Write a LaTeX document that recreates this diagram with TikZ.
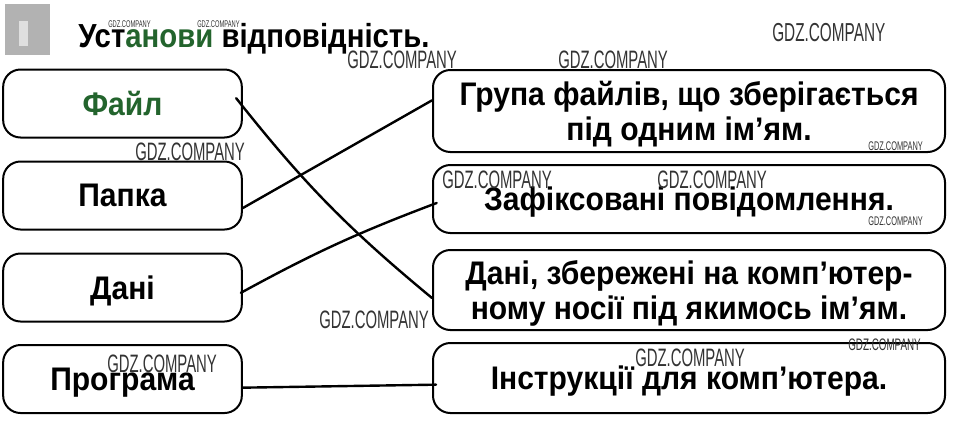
\documentclass[tikz,border=0pt]{standalone}
\usepackage{fontspec}
\setmainfont{Liberation Sans}
\newfontfamily\boxfont[FakeStretch=0.92]{Liberation Sans}
\newfontfamily\titlefont[FakeStretch=0.88]{Liberation Sans}
\usetikzlibrary{positioning}
\definecolor{filegreen}{RGB}{35,100,45}
\tikzset{
  wordbox/.style={draw, line width=1.5pt, rounded corners=13pt, fill=white, inner sep=0pt,
    align=center, text depth=0pt, font=\boxfont\bfseries\fontsize{24.5}{26}\selectfont},
  leftbox/.style={wordbox, minimum width=179pt, minimum height=51pt},
  rightbox/.style={wordbox, minimum width=384pt, minimum height=#1},
  link/.style={line width=1.8pt, line cap=round},
  wmark/.style={anchor=base west, inner sep=0pt, text=black!80}
}
\begin{document}
\begin{tikzpicture}[x=0.75pt, y=-0.75pt]
    \useasboundingbox (0,0) rectangle (971,429);
    % task icon
    \fill[gray!60] (5,4) rectangle (50,55);
    \fill[gray!25] (19,21) rectangle (28,46);
    % title
    \node[anchor=base west, inner sep=0pt, font=\titlefont\bfseries\fontsize{25}{25}\selectfont] (title) at (78,47)
      {Уст{\color{filegreen}анови} відповідність.};
    % left column
    \node[leftbox, text=filegreen] (fajl) at (122.5,103.5) {Файл};
    \node[leftbox] (papka) at (122.5,195.5) {Папка};
    \node[leftbox] (dani) at (122.5,287.5) {Дані};
    \node[leftbox] (programa) at (122.5,379) {Програма};
    % right column
    \node[rightbox=61.5pt] (grupa) at (689,111) {Група файлів, що зберігається\\під одним ім’ям.};
    \node[rightbox=51pt] (zafiks) at (689,199) {Зафіксовані повідомлення.};
    \node[rightbox=60pt] (nosij) at (689,290) {Дані, збережені на комп’ютер-\\ному носії під якимось ім’ям.};
    \node[rightbox=52.5pt] (instr) at (689,378) {Інструкції для комп’ютера.};
    % matching lines
    \draw[link] ([xshift=-5pt,yshift=4pt]fajl.east) to[bend right=6] ([yshift=-6pt]nosij.west);
    \draw[link] ([yshift=-9.4pt]papka.east) -- ([yshift=8pt]grupa.west);
    \draw[link] ([xshift=-1.5pt,yshift=-4pt]dani.east) to[bend left=4] ([xshift=3.5pt,yshift=-3pt]zafiks.west);
    \draw[link] ([yshift=-6.5pt]programa.east) -- ([xshift=3pt,yshift=-5pt]instr.west);
    % watermarks
    \foreach \x/\y/\s [count=\i] in {108/27/7.3, 197/27/7.3, 772/41/19.5, 347/68/18.9, 558/68/18.9,
        135/160/18.9, 868/150/9.4, 442/188/18.9, 657/188/18.9, 868/225/9.4, 319/328/18.9,
        848/350/12.5, 107/372/18.9, 635/366/18.9}
      \node[wmark] (wm\i) at (\x,\y) {\fontsize{\s}{\s}\selectfont\scalebox{0.59}[1]{GDZ.COMPANY}};
\end{tikzpicture}
\end{document}
